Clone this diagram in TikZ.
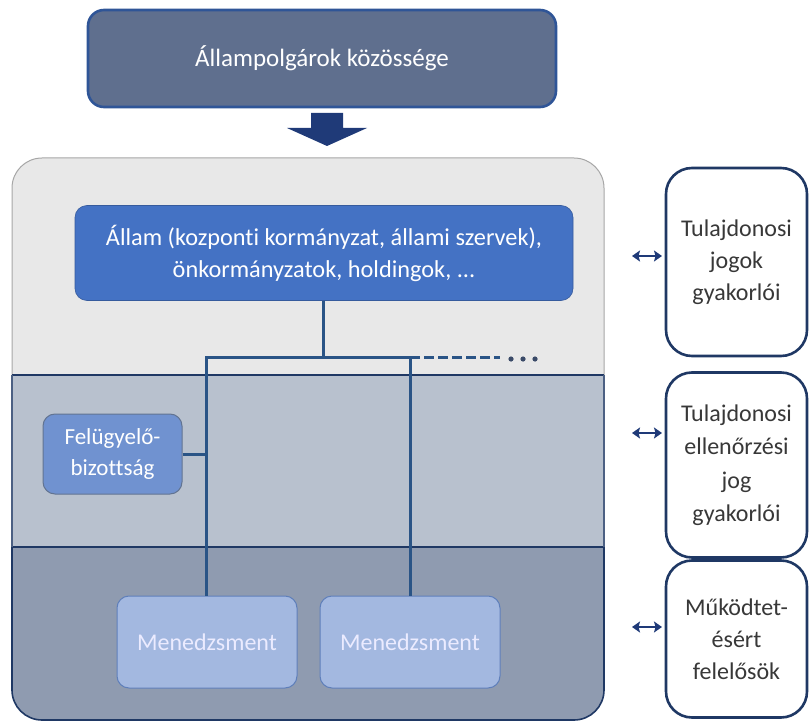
\documentclass[tikz,border=0pt]{standalone}
\usepackage{fontspec}
\setmainfont{Carlito}[Ligatures=NoCommon]
\usetikzlibrary{arrows.meta}
\definecolor{slate}{HTML}{5F6F8E}
\definecolor{slateline}{HTML}{2F5597}
\definecolor{navy}{HTML}{1F3864}
\definecolor{arrowblue}{HTML}{1F3A78}
\definecolor{linkblue}{HTML}{2A5486}
\definecolor{dotgrey}{HTML}{3A4A68}
\definecolor{bandtop}{HTML}{E8E8E8}
\definecolor{bandmid}{HTML}{B8C1CE}
\definecolor{bandlow}{HTML}{8F9BB0}
\definecolor{statefill}{HTML}{4472C4}
\definecolor{boardfill}{HTML}{7092D0}
\definecolor{mgmtfill}{HTML}{A3B8E0}
\definecolor{mgmtline}{HTML}{5F7FBA}
\tikzset{
  boxbase/.style={rounded corners=12pt, align=center, inner sep=0pt},
  rolebox/.style={draw=navy, line width=2.6pt, fill=white, rounded corners=26pt,
    minimum width=141pt, align=center, text=black!78, font=\fontsize{24}{32}\selectfont},
  link/.style={draw=linkblue, line width=3pt},
  dbl/.style={{Stealth[length=8pt,width=11pt,inset=1.5pt]}-{Stealth[length=8pt,width=11pt,inset=1.5pt]}, draw=arrowblue, line width=2.4pt}
}
\begin{document}
\begin{tikzpicture}[x=1pt,y=-1pt]
\useasboundingbox (0,0) rectangle (811,722);
% top box
\node[boxbase, draw=slateline, line width=2.6pt, fill=slate, minimum width=468pt, minimum height=97pt,
  text=white, font=\fontsize{25}{30}\selectfont, rounded corners=16pt] (citizens) at (322,58.5) {Állampolgárok közössége};
% block arrow
\fill[arrowblue] (311,113) -- (343,113) -- (343,128) -- (367,128) -- (327,146) -- (287,128) -- (311,128) -- cycle;
% container bands
\fill[bandtop] (12,375) [rounded corners=30pt] -- (12,158) -- (604,158) [sharp corners] -- (604,375) -- cycle;
\draw[black!35, line width=1pt, rounded corners=30pt] (12,375) -- (12,158) -- (604,158) -- (604,375);
\fill[bandmid] (12,375) rectangle (604,547);
\fill[bandlow] (12,547) [rounded corners=30pt] -- (12,720) -- (604,720) [sharp corners] -- (604,547) -- cycle;
\draw[navy, line width=1.2pt] (12,375) -- (604,375);
\draw[navy, line width=1.2pt] (12,547) -- (604,547);
\draw[navy!80, line width=1.2pt] (12,375) -- (12,547) (604,375) -- (604,547);
\draw[navy, line width=1.6pt, rounded corners=30pt] (12,547) -- (12,720) -- (604,720) -- (604,547);
% nodes inside
\node[boxbase, draw=statefill!80!black, line width=0.6pt, fill=statefill, minimum width=498pt, minimum height=95pt,
  text=white, font=\fontsize{24.3}{32}\selectfont] (state) at (324,253)
  {Állam (kozponti kormányzat, állami szervek),\\önkormányzatok, holdingok, ...};
\node[boxbase, draw=navy!70, line width=1pt, fill=boardfill, minimum width=139pt, minimum height=80pt,
  text=white, font=\fontsize{23}{31}\selectfont] (board) at (112.5,454) {Felügyelő-\\bizottság};
\node[boxbase, draw=mgmtline, line width=1pt, fill=mgmtfill, minimum width=180pt, minimum height=92pt,
  text=white!92!blue, font=\fontsize{24}{28}\selectfont] (mgmtA) at (207,642) {Menedzsment};
\node[boxbase, draw=mgmtline, line width=1pt, fill=mgmtfill, minimum width=180pt, minimum height=92pt,
  text=white!92!blue, font=\fontsize{24}{28}\selectfont] (mgmtB) at (410,642) {Menedzsment};
% connectors
\coordinate (hub) at (323,357);
\coordinate (leftc) at (206,357);
\coordinate (rightc) at (410,357);
\coordinate (dashend) at (500,357);
\draw[link] (state.south -| hub) -- (hub);
\draw[link, line cap=rect] (leftc) -- (rightc);
\draw[link] (leftc) -- (leftc |- mgmtA.north);
\draw[link] (rightc) -- (rightc |- mgmtB.north);
\draw[link] (board.east) -- (board.east -| leftc);
\draw[link, dash pattern=on 10pt off 4pt] (rightc) -- (dashend);
\fill[dotgrey] (511,359) circle (2.6pt) (523,359) circle (2.6pt) (535,359) circle (2.6pt);
% role boxes
\node[rolebox, minimum height=188pt] (owners) at (736.5,262) {Tulajdonosi\\jogok\\gyakorlói};
\node[rolebox, minimum height=185pt, font=\fontsize{24}{33.5}\selectfont] (control) at (736.5,465) {Tulajdonosi\\ellenőrzési\\jog\\gyakorlói};
\node[rolebox, minimum height=157pt] (ops) at (736.5,639) {Működtet-\\ésért\\felelősök};
% double arrows
\coordinate (a1) at (632,256); \coordinate (b1) at (662,256);
\coordinate (a2) at (632,433); \coordinate (b2) at (662,433);
\coordinate (a3) at (632,627); \coordinate (b3) at (662,627);
\draw[dbl] (a1) -- (b1);
\draw[dbl] (a2) -- (b2);
\draw[dbl] (a3) -- (b3);
\end{tikzpicture}
\end{document}
